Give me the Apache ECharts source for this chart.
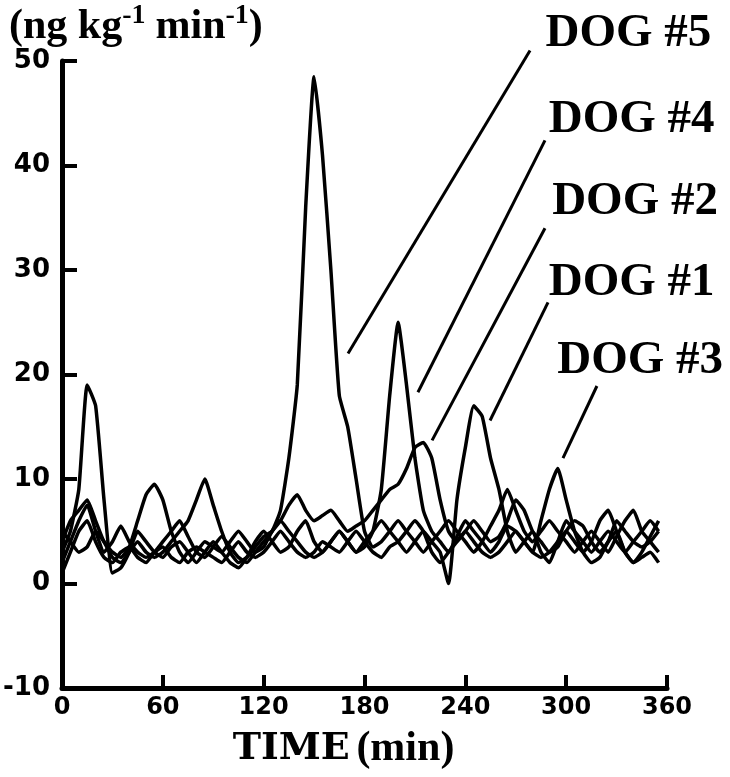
<!DOCTYPE html>
<html lang="en">
<head>
<meta charset="UTF-8">
<title>Dogs</title>
<style type="text/css">
  html, body, #main {
    margin: 0;
    padding: 0;
    width: 100%;
    height: 100%;
    overflow: hidden;
    background-color: #fff;
  }
</style>
</head>
<body>
<div id="main"></div>
<script type="text/javascript" src="https://cdn.jsdelivr.net/npm/echarts@6/dist/echarts.min.js"></script>
<script type="text/javascript">
// sample times (min)
const times = [0, 5, 10, 15, 20, 25, 30, 35, 40, 45, 50, 55, 60, 65, 70, 75, 80, 85, 90, 95,
  100, 105, 110, 115, 120, 125, 130, 135, 140, 145, 150, 155, 160, 165, 170, 175, 180, 185, 190, 195,
  200, 205, 210, 215, 220, 225, 230, 235, 240, 245, 250, 255, 260, 265, 270, 275, 280, 285, 290, 295,
  300, 305, 310, 315, 320, 325, 330, 335, 340, 345, 350, 355];

// ng kg-1 min-1
const dog1 = [3, 5, 9, 19, 17, 8, 1, 1.5, 3, 5, 4, 3, 2.5, 3.5, 4, 3, 2, 3, 4, 3,
  2, 1.5, 2.5, 4, 5, 4, 3, 3.5, 5, 6, 4, 3, 4, 5, 4, 3, 4, 5, 6, 5,
  4, 3, 4, 5, 4, 3, 0, 8, 13, 17, 16, 12, 9, 5, 3, 4, 5, 3, 2, 4,
  6, 5, 4, 3, 4, 5, 4, 3, 4, 5, 6, 5];
const dog2 = [2, 4, 6, 7.5, 5, 3, 4, 5.5, 4, 3, 2.5, 3, 4, 5, 6, 4.5, 3, 2.5, 3.5, 4.5,
  3.5, 2.5, 2, 3, 4, 5, 6, 7.5, 8.5, 7, 6, 6.5, 7, 6, 5, 5.5, 6, 7, 8, 9,
  9.5, 11, 13, 13.5, 12, 8, 5, 4, 5, 6, 5, 4, 4.5, 6, 8, 7, 5, 4, 3, 3.5,
  5, 6, 5.5, 4, 3, 4, 6, 5, 4, 3.5, 4, 5];
const dog3 = [1, 3, 5, 6, 4, 2.5, 2, 3, 3.5, 2.5, 2, 3, 3.5, 2.5, 2, 3, 3.5, 3, 2.5, 2,
  3, 4, 3, 2.5, 3, 4, 5, 4, 3, 2.5, 3, 4, 3.5, 3, 4, 5, 4, 3, 2.5, 3.5,
  4, 5, 6, 5, 3, 2, 3, 4, 5, 4, 3, 2.5, 3, 4, 5, 4, 3, 6, 9, 11,
  8, 5, 3, 2, 2.5, 4, 5, 3, 2, 2.5, 3, 2];
const dog4 = [4, 6, 7, 8, 6, 4, 3, 2.5, 3.5, 6, 8.5, 9.5, 8, 5, 3, 2, 3, 4, 3.5, 3,
  4, 5, 4, 3, 3.5, 5, 6, 5, 4, 3, 2.5, 3, 4, 5, 4, 3, 3.5, 5, 9, 18,
  25, 19, 12, 7, 5, 4, 3, 4.5, 6, 5, 4, 3, 4, 5.5, 5, 4, 3, 2.5, 3, 4,
  5, 4, 3, 4, 6, 7, 5, 3, 2, 3, 4.5, 6];
const dog5 = [5, 4, 3, 3.5, 5, 4, 2.5, 2, 3, 4, 3, 2.5, 3, 4, 5, 6, 8, 10, 7.5, 5,
  3, 2, 2.5, 3.5, 4.5, 5, 7, 12, 19, 36, 48.5, 41, 30, 18, 15, 10, 5, 3.5, 4, 5,
  6, 5, 4, 3, 4, 5, 6, 5, 4, 3, 4, 5.5, 7, 9, 7, 5, 4, 5, 6, 5,
  4, 3, 4, 5, 4, 3, 4.5, 6, 7, 5, 4, 3];

const dogNames = ['DOG #5', 'DOG #4', 'DOG #2', 'DOG #1', 'DOG #3'];
// label centre and leader line ends, in (min, value)
const labelAt = [[337, 52.6], [339, 44.4], [341, 36.5], [339, 28.8], [344, 21.3]];
const leaderFrom = [[278.5, 51.0], [287.4, 42.4], [287.4, 34.0], [289.2, 26.9], [318.3, 18.9]];
const leaderTo = [[170.2, 22.0], [211.8, 18.3], [220.2, 13.7], [254.7, 15.6], [298.1, 12.0]];

const chart = echarts.init(document.getElementById('main'));

function pairs(vals) {
  return times.map(function (t, i) { return [t, vals[i]]; });
}

function dogLine(name, vals) {
  return {
    name: name,
    type: 'line',
    data: pairs(vals),
    showSymbol: false,
    smooth: 0.15,
    clip: false,
    lineStyle: { color: '#000', width: 3.5 },
    z: 2
  };
}

const axisText = { fontFamily: 'DejaVu Sans', fontWeight: 'bold', color: '#000' };

chart.setOption({
  animation: false,
  backgroundColor: '#fff',
  title: {
    text: '{t|(ng kg}{s|-1}  {t|min}{s|-1}{t|)}',
    left: 4,
    top: -3,
    textStyle: {
      rich: {
        t: { fontFamily: 'Liberation Serif', fontWeight: 'bold', fontSize: 42, color: '#000', lineHeight: 46, verticalAlign: 'bottom' },
        s: { fontFamily: 'Liberation Serif', fontWeight: 'bold', fontSize: 28, color: '#000', lineHeight: 46, verticalAlign: 'top' }
      }
    }
  },
  grid: { left: 62, right: 63, top: 61, bottom: 89, outerBoundsMode: 'none' },
  xAxis: {
    type: 'value',
    min: 0,
    max: 360,
    interval: 60,
    name: '{a|TIME}  {b|(min)}',
    nameLocation: 'middle',
    nameGap: 40,
    nameTextStyle: {
      padding: [0, 42, 0, 0],
      rich: {
        a: { fontFamily: 'DejaVu Serif', fontWeight: 'bold', fontSize: 38, color: '#000' },
        b: { fontFamily: 'Liberation Serif', fontWeight: 'bold', fontSize: 42, color: '#000' }
      }
    },
    axisLine: { onZero: false, lineStyle: { color: '#000', width: 5 } },
    axisTick: { inside: true, length: 13, lineStyle: { color: '#000', width: 4 } },
    axisLabel: Object.assign({ margin: 8, fontSize: 24 }, axisText),
    splitLine: { show: false }
  },
  yAxis: {
    type: 'value',
    min: -10,
    max: 50,
    interval: 10,
    axisLine: { show: true, onZero: false, lineStyle: { color: '#000', width: 5 } },
    axisTick: { show: true, inside: true, length: 15, lineStyle: { color: '#000', width: 4 } },
    axisLabel: Object.assign({ margin: 12, fontSize: 26 }, axisText),
    splitLine: { show: false }
  },
  series: [
    dogLine('DOG #1', dog1),
    dogLine('DOG #2', dog2),
    dogLine('DOG #3', dog3),
    dogLine('DOG #4', dog4),
    dogLine('DOG #5', dog5)
  ]
});

// dog labels and their leader lines
const graphics = [];
dogNames.forEach(function (name, i) {
  const c = chart.convertToPixel({ gridIndex: 0 }, labelAt[i]);
  const a = chart.convertToPixel({ gridIndex: 0 }, leaderFrom[i]);
  const b = chart.convertToPixel({ gridIndex: 0 }, leaderTo[i]);
  graphics.push({
    type: 'text',
    x: c[0],
    y: c[1],
    style: {
      text: name,
      align: 'center',
      verticalAlign: 'middle',
      fontFamily: 'Liberation Serif',
      fontWeight: 'bold',
      fontSize: 47,
      fill: '#000'
    }
  });
  graphics.push({
    type: 'line',
    shape: { x1: a[0], y1: a[1], x2: b[0], y2: b[1] },
    style: { stroke: '#000', lineWidth: 3 }
  });
});
chart.setOption({ graphic: graphics });
</script>
</body>
</html>
